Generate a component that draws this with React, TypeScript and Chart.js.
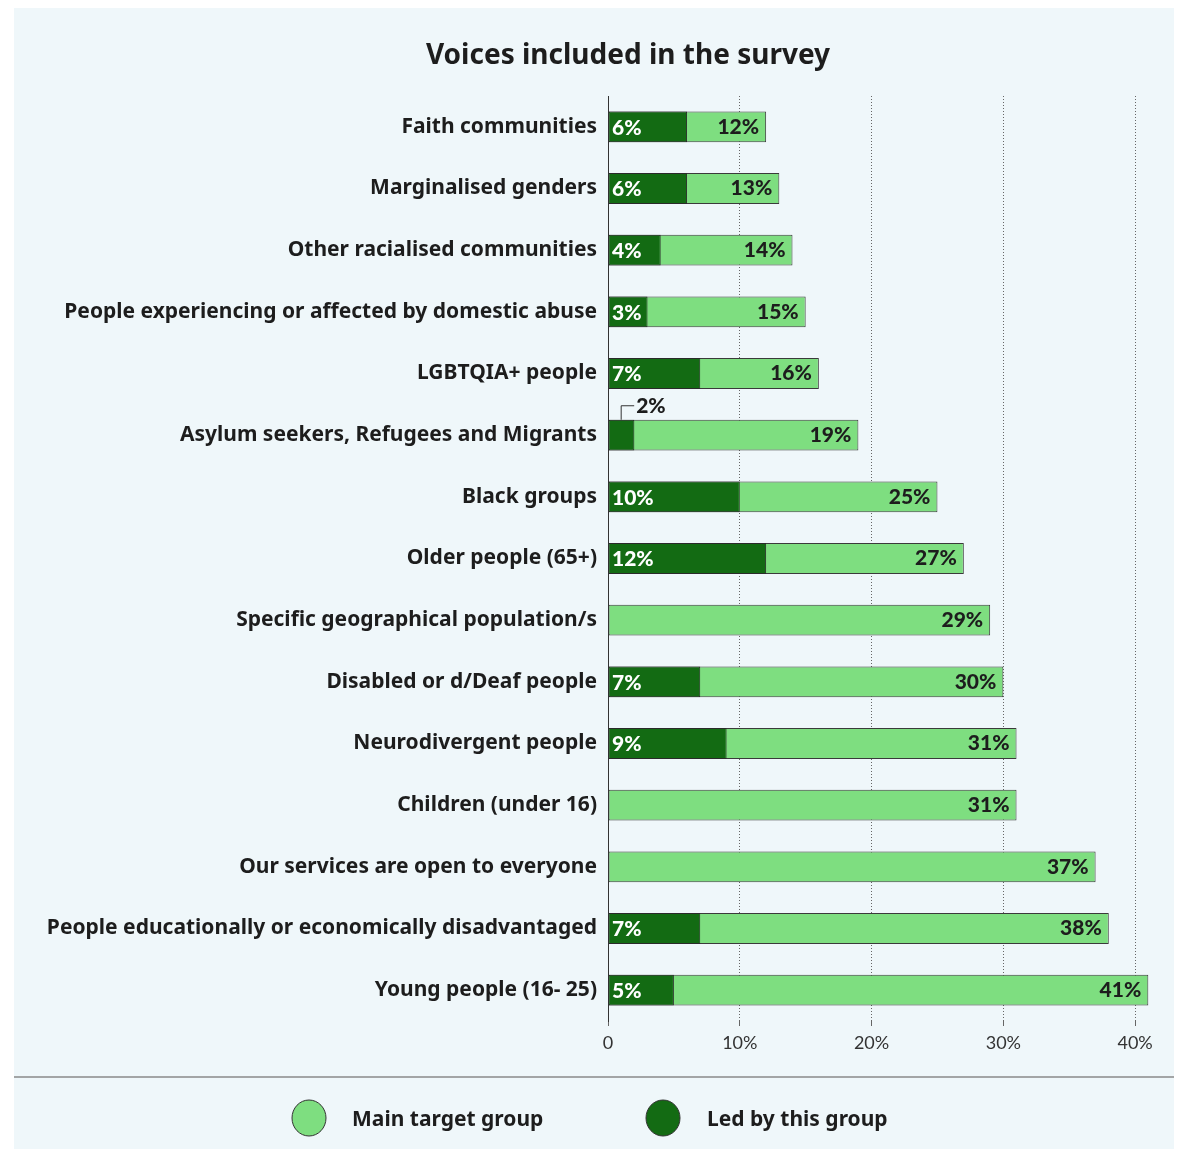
import React, { useEffect, useRef } from "react";
import { Chart, registerables } from "chart.js";

Chart.register(...registerables);

const categories = [
  "Faith communities",
  "Marginalised genders",
  "Other racialised communities",
  "People experiencing or affected by domestic abuse",
  "LGBTQIA+ people",
  "Asylum seekers, Refugees and Migrants",
  "Black groups",
  "Older people (65+)",
  "Specific geographical population/s",
  "Disabled or d/Deaf people",
  "Neurodivergent people",
  "Children (under 16)",
  "Our services are open to everyone",
  "People educationally or economically disadvantaged",
  "Young people (16- 25)",
];

const mainTarget = [12, 13, 14, 15, 16, 19, 25, 27, 29, 30, 31, 31, 37, 38, 41];
const ledByGroup: (number | null)[] = [6, 6, 4, 3, 7, 2, 10, 12, null, 7, 9, null, null, 7, 5];

const xTicks = [0, 10, 20, 30, 40];
const seriesNames = ["Main target group", "Led by this group"];
const chartTitle = "Voices included in the survey";

const LIGHT = "#7ede80";
const DARK = "#136b13";
const FONT = "'Noto Sans', Lato, sans-serif";
const NUMFONT = "Lato, 'Noto Sans', sans-serif";
const PANEL_W = 1163;
const PANEL_H = 1143;

export default function App() {
  const ref = useRef<HTMLCanvasElement | null>(null);

  useEffect(() => {
    if (!ref.current) return;

    const decor = {
      id: "decor",
      afterDatasetsDraw(chart: any) {
        const ctx = chart.ctx;
        const area = chart.chartArea;
        ctx.save();
        const mainMeta = chart.getDatasetMeta(0);
        const ledMeta = chart.getDatasetMeta(1);
        ctx.font = `900 21px ${NUMFONT}`;
        ctx.textBaseline = "middle";
        mainMeta.data.forEach((bar: any, i: number) => {
          ctx.fillStyle = "#1d1d1d";
          ctx.textAlign = "right";
          ctx.fillText(`${mainTarget[i]}%`, bar.x - 7, bar.y);
        });
        ledMeta.data.forEach((bar: any, i: number) => {
          const v = ledByGroup[i];
          if (v == null) return;
          if (v < 3) {
            const cx = (area.left + bar.x) / 2;
            const top = bar.y - bar.height / 2;
            ctx.strokeStyle = "#333";
            ctx.lineWidth = 1;
            ctx.beginPath();
            ctx.moveTo(cx, top);
            ctx.lineTo(cx, top - 14);
            ctx.lineTo(cx + 13, top - 14);
            ctx.stroke();
            ctx.fillStyle = "#1d1d1d";
            ctx.textAlign = "left";
            ctx.fillText(`${v}%`, cx + 15, top - 14);
          } else {
            ctx.fillStyle = "#ffffff";
            ctx.textAlign = "left";
            ctx.fillText(`${v}%`, area.left + 4, bar.y + 1);
          }
        });
        ctx.restore();
      },
      afterDraw(chart: any) {
        const ctx = chart.ctx;
        ctx.save();
        ctx.fillStyle = "#1d1d1d";
        ctx.font = `bold 28px ${FONT}`;
        ctx.textAlign = "center";
        ctx.textBaseline = "middle";
        ctx.fillText(chartTitle, 614, 50);
        ctx.strokeStyle = "#8a8a8a";
        ctx.lineWidth = 1.5;
        ctx.beginPath();
        ctx.moveTo(0, 1071);
        ctx.lineTo(PANEL_W, 1071);
        ctx.stroke();
        const items = [
          { x: 295, tx: 338, color: LIGHT, label: seriesNames[0] },
          { x: 649, tx: 693, color: DARK, label: seriesNames[1] },
        ];
        items.forEach((it) => {
          ctx.beginPath();
          ctx.ellipse(it.x, 1112, 17, 18, 0, 0, Math.PI * 2);
          ctx.fillStyle = it.color;
          ctx.fill();
          ctx.strokeStyle = "#333";
          ctx.lineWidth = 1;
          ctx.stroke();
          ctx.fillStyle = "#1d1d1d";
          ctx.font = `bold 21px ${FONT}`;
          ctx.textAlign = "left";
          ctx.textBaseline = "middle";
          ctx.fillText(it.label, it.tx, 1114);
        });
        ctx.restore();
      },
    };

    const chart = new Chart(ref.current, {
      type: "bar",
      data: {
        labels: categories,
        datasets: [
          {
            label: seriesNames[0],
            data: mainTarget,
            backgroundColor: LIGHT,
            borderColor: "#3a3a3a",
            borderWidth: 1,
            borderSkipped: false,
            grouped: false,
            order: 2,
            barPercentage: 1,
            categoryPercentage: 0.5,
          } as any,
          {
            label: seriesNames[1],
            data: ledByGroup,
            backgroundColor: DARK,
            borderColor: "#2a2a2a",
            borderWidth: 1,
            borderSkipped: false,
            grouped: false,
            order: 1,
            barPercentage: 1,
            categoryPercentage: 0.5,
          } as any,
        ],
      },
      options: {
        indexAxis: "y",
        animation: false,
        responsive: false,
        devicePixelRatio: 1,
        layout: { padding: { left: 0, right: 15.5, top: 90, bottom: 88 } },
        plugins: {
          legend: { display: false },
          title: { display: false },
          tooltip: { enabled: false },
        },
        scales: {
          x: {
            min: 0,
            max: 42,
            afterBuildTicks(scale: any) {
              scale.ticks = xTicks.map((v) => ({ value: v }));
            },
            afterFit(scale: any) {
              scale.height = 40;
            },
            ticks: {
              color: "#333",
              font: { family: NUMFONT, size: 18 },
              padding: 6,
              callback: (v: any) => (v === 0 ? "0" : `${v}%`),
            },
            grid: {
              color: "#666",
              lineWidth: 1,
              tickLength: 5,
              drawOnChartArea: true,
            },
            border: { display: false, dash: [1, 2] },
          },
          y: {
            afterFit(scale: any) {
              scale.width = 594;
            },
            ticks: {
              color: "#1d1d1d",
              font: { family: FONT, size: 21, weight: "bold" },
              padding: 3,
            },
            grid: { display: false },
            border: { display: true, color: "#333", width: 1 },
          },
        },
      } as any,
      plugins: [decor],
    });
    (chart.options.scales as any).x.grid.borderDash = [1, 2];
    chart.update();
    return () => chart.destroy();
  }, []);

  return (
    <div
      style={{
        position: "relative",
        marginLeft: -8,
        marginTop: -8,
        width: 1182,
        height: 1149,
        background: "#ffffff",
        overflow: "hidden",
      }}
    >
      <div
        style={{
          position: "absolute",
          left: 14,
          top: 6,
          width: PANEL_W,
          height: PANEL_H,
          background: "#eff7fa",
        }}
      >
        <canvas ref={ref} width={PANEL_W} height={PANEL_H} style={{ display: "block" }} />
      </div>
    </div>
  );
}
